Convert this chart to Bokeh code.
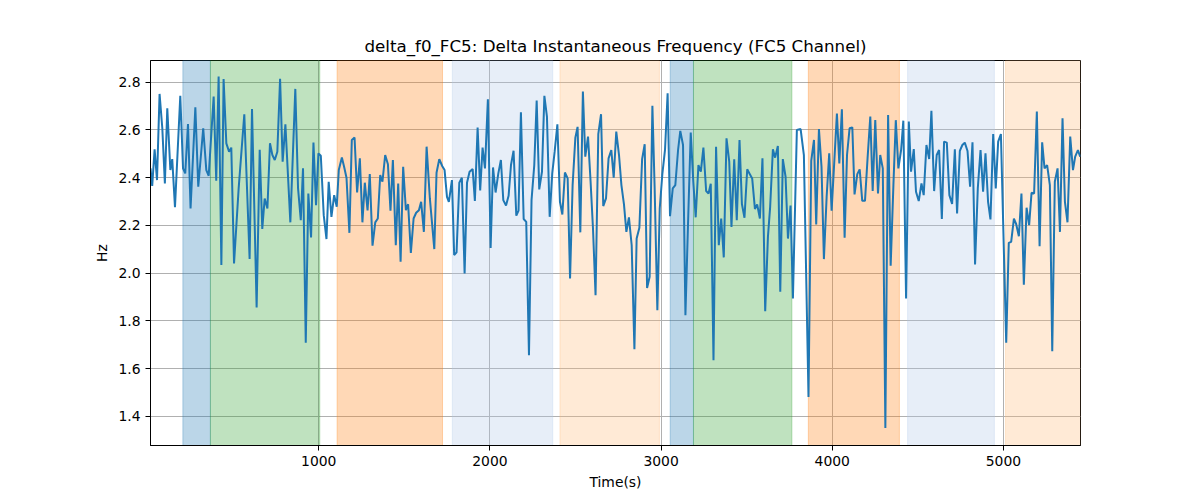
from bokeh.plotting import figure
from bokeh.models import BoxAnnotation, FixedTicker, NumeralTickFormatter
from bokeh.embed import file_html
from bokeh.resources import INLINE

# time stamps (s) and delta f0 values (Hz)
t = [17, 27, 41, 55, 70, 86, 101, 115, 133, 144, 160, 191, 207, 220, 236, 251, 279, 296,
     325, 343, 357, 386, 401, 415, 431, 444, 460, 476, 489, 505, 532, 565, 596, 610, 637,
     655, 670, 684, 700, 715, 729, 743, 758, 774, 789, 805, 834, 863, 879, 895, 908, 924,
     939, 955, 969, 984, 998, 1012, 1029, 1045, 1058, 1074, 1090, 1105,
     1117, 1135, 1148, 1162, 1179, 1193, 1209, 1224, 1240, 1255, 1269, 1285, 1298, 1314,
     1330, 1345, 1359, 1372, 1388, 1404, 1419, 1433, 1450, 1464, 1478, 1493, 1509, 1522,
     1538, 1554, 1569, 1585, 1598, 1614, 1630, 1649, 1675, 1688, 1704, 1721, 1735, 1749,
     1760, 1778, 1791, 1805, 1821, 1836, 1852, 1866, 1881, 1899, 1912, 1928, 1943, 1957,
     1971, 1988, 2004, 2018, 2033, 2049, 2064, 2078, 2094, 2109, 2123, 2138, 2154,
     2167, 2181, 2197, 2212, 2228, 2243, 2259, 2273, 2288, 2304, 2318, 2333, 2349, 2364,
     2378, 2394, 2409, 2423, 2438, 2454, 2468, 2483, 2499, 2512, 2528, 2543, 2557, 2573,
     2588, 2602, 2617, 2633, 2649, 2662, 2678, 2693, 2709, 2723, 2738, 2754, 2768, 2783,
     2797, 2812, 2828, 2844, 2857, 2873, 2889, 2904, 2918, 2933, 2949, 2962, 2978, 2992,
     3007, 3023, 3038, 3052, 3068, 3083, 3099, 3112, 3128, 3142, 3157, 3173, 3188, 3202,
     3218,
     3232, 3247, 3263, 3277, 3290, 3306, 3321, 3337, 3351, 3366, 3382, 3398, 3411, 3427,
     3442, 3458, 3472, 3487, 3503, 3516, 3532, 3548, 3561, 3577, 3592, 3608, 3624, 3637,
     3653, 3666, 3682, 3696, 3711, 3727, 3741, 3756, 3770, 3793, 3815, 3834, 3861, 3877,
     3893, 3906, 3922, 3937, 3951, 3967, 3982, 3996, 4027, 4041, 4056, 4072, 4086, 4101,
     4117, 4130, 4146, 4160, 4175, 4191, 4206, 4222, 4236, 4251, 4267, 4280,
     4295, 4310, 4326, 4341, 4357, 4371, 4386, 4402, 4415, 4431, 4447, 4460, 4476, 4489,
     4505, 4521, 4534, 4550, 4566, 4579, 4595, 4610, 4624, 4640, 4653, 4669, 4684, 4700,
     4716, 4729, 4745, 4760, 4774, 4790, 4805, 4819, 4834, 4850, 4866, 4881, 4895, 4910,
     4924, 4940, 4955, 4969, 4985, 5016, 5031, 5045, 5061, 5074, 5090, 5105, 5119, 5135,
     5150, 5164, 5179, 5195, 5211, 5226, 5240, 5255, 5271, 5285, 5300, 5316, 5330, 5345,
     5359, 5374, 5390, 5406, 5419, 5435, 5448]

hz = [2.439, 2.366, 2.519, 2.390, 2.751, 2.607, 2.376, 2.691, 2.432, 2.478, 2.276, 2.743,
      2.439, 2.418, 2.625, 2.271, 2.695, 2.362, 2.607, 2.432, 2.408, 2.740, 2.387, 2.824,
      2.034, 2.813, 2.544, 2.509, 2.526, 2.041, 2.355, 2.666, 2.059, 2.688, 1.856, 2.517,
      2.185, 2.313, 2.271, 2.544, 2.495, 2.474, 2.509, 2.814, 2.467, 2.624, 2.213, 2.772,
      2.355, 2.222, 2.439, 1.709, 2.334, 2.150, 2.547, 2.285, 2.502, 2.492, 2.243, 2.143,
      2.383, 2.236, 2.327, 2.278,
      2.432, 2.485, 2.446, 2.400, 2.169, 2.558, 2.568, 2.338, 2.481, 2.213, 2.379, 2.263,
      2.415, 2.115, 2.213, 2.229, 2.411, 2.383, 2.495, 2.456, 2.262, 2.474, 2.117, 2.376,
      2.048, 2.446, 2.264, 2.289, 2.085, 2.229, 2.253, 2.264, 2.299, 2.173, 2.530, 2.313,
      2.101, 2.421, 2.478, 2.449, 2.432, 2.320, 2.299, 2.390, 2.076, 2.087, 2.379, 2.400,
      1.999, 2.379, 2.425, 2.436, 2.303, 2.610, 2.347, 2.526, 2.439, 2.729, 2.106, 2.443,
      2.338, 2.418, 2.474, 2.306, 2.283, 2.324, 2.453, 2.513, 2.241,
      2.262, 2.674, 2.227, 2.215, 1.656, 2.306, 2.453, 2.723, 2.351, 2.425, 2.743, 2.656,
      2.236, 2.418, 2.509, 2.624, 2.299, 2.246, 2.422, 2.397, 1.978, 2.369, 2.568, 2.613,
      2.171, 2.761, 2.488, 2.572, 2.383, 2.187, 1.908, 2.583, 2.666, 2.281, 2.313, 2.481,
      2.516, 2.400, 2.593, 2.495, 2.369, 2.288, 2.173, 2.234, 2.117, 1.681, 2.145, 2.190,
      2.478, 2.540, 1.938, 1.985, 2.701, 2.362, 1.845, 2.271, 2.414, 2.519, 2.754, 2.239,
      2.355, 2.369, 2.516, 2.596, 2.537, 1.824, 2.201, 2.589, 2.383, 2.234, 2.453,
      2.425, 2.526, 2.344, 2.334, 2.375, 1.635, 2.530, 2.117, 2.229, 2.066, 2.565, 2.467,
      2.194, 2.477, 2.222, 2.558, 2.290, 2.232, 2.435, 2.418, 2.397, 2.269, 2.288, 2.229,
      2.481, 1.841, 2.152, 2.278, 2.519, 2.484, 2.533, 1.922, 2.478, 2.404, 2.145, 2.283,
      1.894, 2.600, 2.604, 2.495, 1.481, 2.470, 2.558, 2.204, 2.604, 2.446, 2.059, 2.320,
      2.502, 2.262, 2.669, 2.460, 2.687, 2.148, 2.495, 2.607, 2.611, 2.330, 2.415, 2.435,
      2.303, 2.303, 2.481, 2.656, 2.344, 2.642, 2.334, 2.495,
      2.439, 1.351, 2.663, 2.031, 2.369, 2.641, 2.439, 2.516, 2.639, 1.894, 2.635, 2.425,
      2.520, 2.341, 2.302, 2.376, 2.327, 2.537, 2.478, 2.680, 2.344, 2.495, 2.516, 2.227,
      2.551, 2.547, 2.327, 2.290, 2.519, 2.250, 2.512, 2.537, 2.547, 2.512, 2.362, 2.548,
      2.036, 2.355, 2.516, 2.341, 2.502, 2.299, 2.225, 2.583, 2.355, 2.551, 2.583, 1.709,
      2.127, 2.131, 2.229, 2.206, 2.155, 2.334, 1.952, 2.274, 2.201, 2.337, 2.334, 2.677,
      2.113, 2.548, 2.439, 2.453, 2.369, 1.673, 2.383, 2.439, 2.173, 2.649, 2.299, 2.213,
      2.572, 2.432, 2.488, 2.516, 2.488]

# shaded segments: start, end, colour, alpha
seg_start = [206, 367, 1107, 1780, 2409, 3053, 3189, 3860, 4440, 5012]
seg_end = [367, 1006, 1723, 2367, 2990, 3189, 3764, 4392, 4947, 5460]
seg_color = ["#1f77b4", "#2ca02c", "#ff7f0e", "#aec7e8", "#ffbb78",
             "#1f77b4", "#2ca02c", "#ff7f0e", "#aec7e8", "#ffbb78"]
seg_alpha = [0.3, 0.3, 0.3, 0.3, 0.3, 0.3, 0.3, 0.3, 0.3, 0.3]

y_ticks = [1.4, 1.6, 1.8, 2.0, 2.2, 2.4, 2.6, 2.8]
x_ticks = [1000, 2000, 3000, 4000, 5000]

p = figure(width=1200, height=500, output_backend="svg", toolbar_location=None,
           x_range=(17, 5450), y_range=(1.278, 2.891),
           title="delta_f0_FC5: Delta Instantaneous Frequency (FC5 Channel)",
           min_border_left=150, min_border_right=120, min_border_top=60,
           min_border_bottom=55)

for s, e, c, a in zip(seg_start, seg_end, seg_color, seg_alpha):
    p.add_layout(BoxAnnotation(left=s, right=e, fill_color=c, fill_alpha=a,
                               line_color=c, line_alpha=a, level="underlay"))

p.line(t, hz, line_color="#1f77b4", line_width=2)

p.title.align = "center"
p.title.text_font = "DejaVu Sans"
p.title.text_font_size = "16.7px"
p.title.text_font_style = "normal"
p.title.text_color = "black"

p.xaxis.axis_label = "Time(s)"
p.yaxis.axis_label = "Hz"
p.xaxis.ticker = FixedTicker(ticks=x_ticks)
p.yaxis.ticker = FixedTicker(ticks=y_ticks)
p.yaxis.formatter = NumeralTickFormatter(format="0.0")
for ax in (p.xaxis, p.yaxis):
    ax.axis_label_text_font = "DejaVu Sans"
    ax.axis_label_text_font_size = "13.9px"
    ax.axis_label_text_font_style = "normal"
    ax.axis_label_text_color = "black"
    ax.major_label_text_font = "DejaVu Sans"
    ax.major_label_text_font_size = "13.9px"
    ax.major_label_text_color = "black"
    ax.minor_tick_line_color = None
    ax.major_tick_out = 5
    ax.major_tick_in = 0
    ax.axis_line_color = "black"
    ax.major_tick_line_color = "black"

p.grid.grid_line_color = "#b0b0b0"
p.grid.grid_line_width = 1
p.outline_line_color = "black"
p.outline_line_alpha = 1

open("out.html", "w").write(file_html(p, INLINE))
